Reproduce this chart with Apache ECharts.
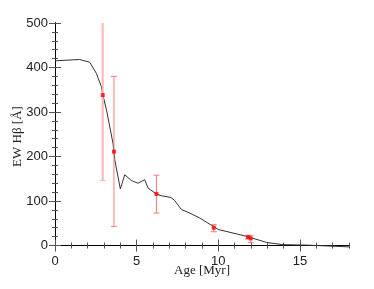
<!DOCTYPE html>
<html><head><meta charset="utf-8">
<script src="https://cdn.jsdelivr.net/npm/echarts@6/dist/echarts.min.js"></script>
<style>html,body{margin:0;padding:0;background:#fff}#c{width:374px;height:289px}</style>
</head><body><div id="c"></div>
<script>
// Model curve
var modelAge = [0, 1.5, 2.12, 2.53, 2.84, 2.92, 3.15, 3.55, 3.66, 4.0, 4.27, 4.68, 5.08, 5.49, 5.7, 6.2, 6.5, 7.1, 7.33, 7.74, 7.84, 8.25, 8.86, 10.0, 11.7, 12.95, 13.96, 15.4, 18];
var modelEW  = [415, 418, 412, 387, 357, 340, 305, 230, 193, 127, 159, 146, 140, 148, 129, 116, 112, 108, 101, 81, 77, 73, 62, 36, 21, 7, 2, 1, -3];
// Observations
var obsAge  = [2.92, 3.61, 6.21, 9.72, 11.82, 11.98];
var obsEW   = [338, 211, 116, 40, 19, 16];
var obsLow  = [146, 43, 73, 31, 15, 7];
var obsHigh = [540, 380, 158, 47, 23, 22];
// Ticks
var yMajor = [0, 100, 200, 300, 400, 500];
var yMinor = [];
for (var v = 0; v <= 500; v += 20) yMinor.push(v);
var xMajor = [0, 5, 10, 15];
var xMinor = [];
for (var u = 0; u <= 18; u += 1) xMinor.push(u);

var chart = echarts.init(document.getElementById('c'));
var tickCol = '#555';
var labelFont = {fontFamily: 'Liberation Sans', fontSize: 13, color: '#222'};
function yAx(pos, vals, len, label, name) {
  return {type: 'value', min: -10, max: 500, position: pos,
    name: name || '', nameLocation: 'middle', nameGap: 31, nameMoveOverlap: false,
    nameTextStyle: {fontFamily: 'Liberation Serif', fontSize: 13, color: '#222'},
    axisLine: {show: true, lineStyle: {color: '#000', width: 1}},
    axisTick: {show: true, inside: true, length: len, customValues: vals, lineStyle: {color: tickCol}},
    axisLabel: label ? Object.assign({show: true, customValues: vals, margin: 7}, labelFont) : {show: false},
    splitLine: {show: false}};
}
function xAx(pos, vals, len, label, name) {
  return {type: 'value', min: 0, max: 18, position: pos,
    name: name || '', nameLocation: 'middle', nameGap: 14, nameMoveOverlap: false,
    nameTextStyle: {fontFamily: 'Liberation Serif', fontSize: 13, color: '#222'},
    axisLine: {show: true, lineStyle: {color: '#000', width: 1}},
    axisTick: {show: true, inside: true, length: len, customValues: vals, lineStyle: {color: tickCol}},
    axisLabel: label ? Object.assign({show: true, customValues: vals, margin: 5}, labelFont) : {show: false},
    splitLine: {show: false}};
}
var errData = obsAge.map(function (a, i) { return [a, obsEW[i], obsLow[i], obsHigh[i]]; });
chart.setOption({
  animation: false,
  grid: {left: 55, right: 25, top: 23, bottom: 39, containLabel: false, outerBoundsMode: 'none'},
  xAxis: [xAx('bottom', xMajor, 6, true, 'Age [Myr]'), xAx('bottom', xMinor, 3, false),
          xAx('top', xMajor, 6, false), xAx('top', xMinor, 3, false)],
  yAxis: [yAx('left', yMajor, 6, true, 'EW H\u03B2 [\u00C5]'), yAx('left', yMinor, 3, false),
          yAx('right', yMajor, 6, false), yAx('right', yMinor, 3, false)],
  series: [
    {type: 'line', data: modelAge.map(function (a, i) { return [a, modelEW[i]]; }),
     showSymbol: false, lineStyle: {color: '#333', width: 1}, z: 2},
    {type: 'custom', data: errData, clip: true, z: 3,
     renderItem: function (params, api) {
       var x = api.value(0);
       var lo = api.coord([x, api.value(2)]);
       var hi = api.coord([x, api.value(3)]);
       var first = params.dataIndex === 0;
       var st = {stroke: first ? '#ffb3b3' : '#ff7a7a', lineWidth: first ? 2 : 1};
       var cw = 3;
       return {type: 'group', children: [
         {type: 'line', shape: {x1: lo[0], y1: lo[1], x2: hi[0], y2: hi[1]}, style: st},
         {type: 'line', shape: {x1: lo[0] - cw, y1: lo[1], x2: lo[0] + cw, y2: lo[1]}, style: {stroke: st.stroke, lineWidth: 1}},
         first ? {type: 'group'} : {type: 'line', shape: {x1: hi[0] - cw, y1: hi[1], x2: hi[0] + cw, y2: hi[1]}, style: {stroke: st.stroke, lineWidth: 1}}
       ]};
     }},
    {type: 'scatter', data: obsAge.map(function (a, i) { return [a, obsEW[i]]; }),
     symbol: 'rect', symbolSize: 4, itemStyle: {color: '#ff0000'}, z: 4}
  ]
});
</script></body></html>
